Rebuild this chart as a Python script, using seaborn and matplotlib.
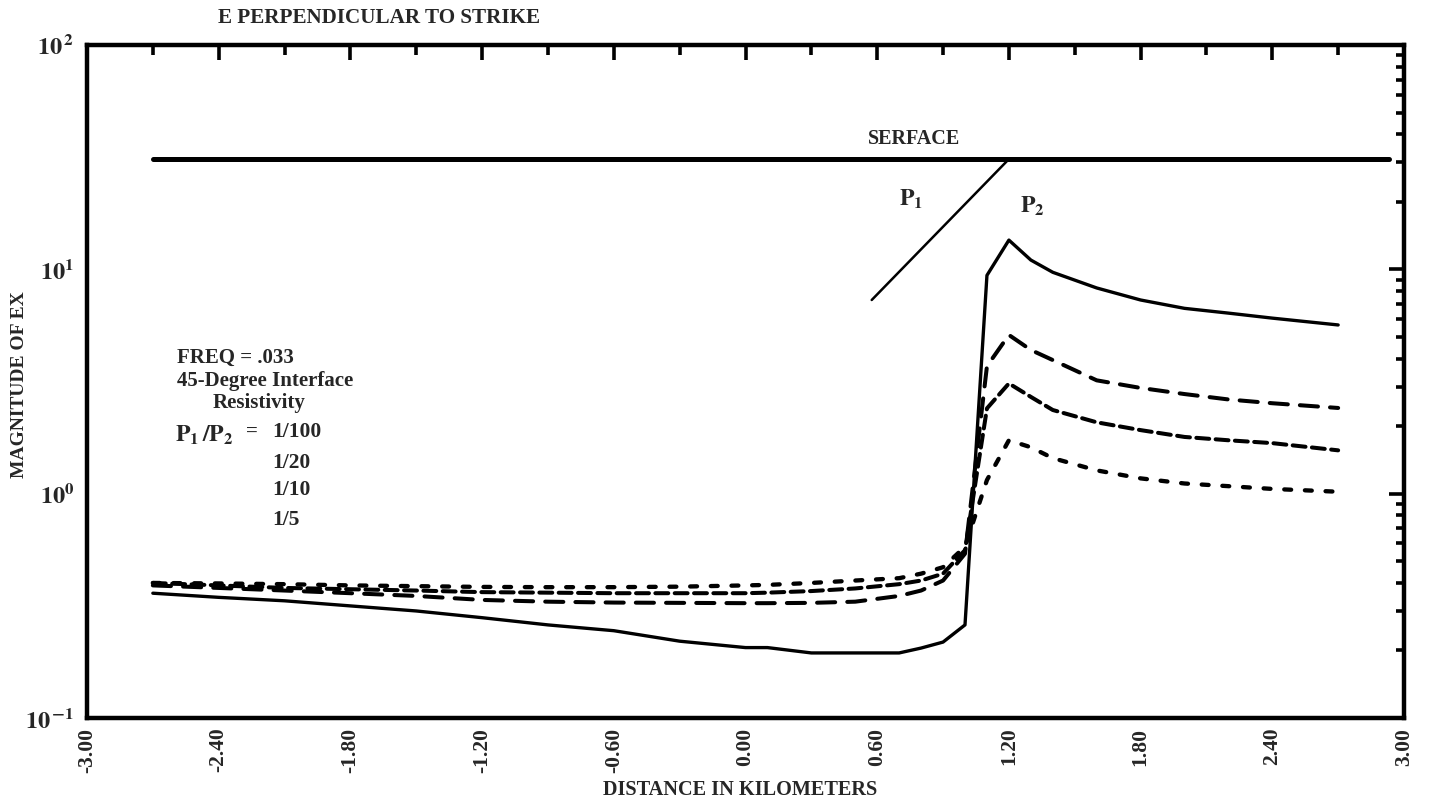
import numpy as np
import pandas as pd
import matplotlib
matplotlib.use("Agg")
import matplotlib.pyplot as plt
import seaborn as sns
from matplotlib.ticker import FixedLocator, NullFormatter

# ---- data -------------------------------------------------------------
distance_km = [-2.7, -2.4, -2.1, -1.8, -1.5, -1.2, -0.9, -0.6, -0.3, 0.0, 0.1,
               0.3, 0.5, 0.7, 0.8, 0.9, 1.0, 1.1, 1.2, 1.3, 1.4, 1.6, 1.8,
               2.0, 2.2, 2.4, 2.7]

ex_1_100 = [0.36, 0.345, 0.333, 0.316, 0.30, 0.28, 0.26, 0.245, 0.22, 0.206,
            0.206, 0.195, 0.195, 0.195, 0.205, 0.218, 0.26, 9.4, 13.5, 11.0,
            9.7, 8.26, 7.3, 6.7, 6.38, 6.06, 5.65]
ex_1_20 = [0.39, 0.38, 0.37, 0.36, 0.35, 0.336, 0.33, 0.327, 0.326, 0.325,
           0.325, 0.326, 0.33, 0.35, 0.37, 0.41, 0.54, 3.7, 5.1, 4.37, 3.94,
           3.2, 2.96, 2.78, 2.63, 2.53, 2.41]
ex_1_10 = [0.40, 0.39, 0.38, 0.375, 0.37, 0.364, 0.362, 0.36, 0.36, 0.36,
           0.362, 0.368, 0.378, 0.395, 0.41, 0.44, 0.56, 2.4, 3.1, 2.7, 2.36,
           2.08, 1.92, 1.79, 1.73, 1.68, 1.56]
ex_1_5 = [0.40, 0.398, 0.395, 0.39, 0.387, 0.384, 0.383, 0.383, 0.385, 0.39,
          0.392, 0.40, 0.41, 0.42, 0.44, 0.47, 0.58, 1.15, 1.73, 1.61, 1.44,
          1.27, 1.17, 1.11, 1.08, 1.05, 1.02]

ratio_labels = ["1/100", "1/20", "1/10", "1/5"]

surface_x = [-2.7, 2.93]
surface_y = [31.0, 31.0]
interface_x = [0.575, 1.2]
interface_y = [7.3, 31.0]

x_major = [-3.0, -2.4, -1.8, -1.2, -0.6, 0.0, 0.6, 1.2, 1.8, 2.4, 3.0]
x_minor = [-2.7, -2.1, -1.5, -0.9, -0.3, 0.3, 0.9, 1.5, 2.1, 2.7]
x_ticklabels = ["-3.00", "-2.40", "-1.80", "-1.20", "-0.60", "0.00", "0.60",
                "1.20", "1.80", "2.40", "3.00"]
y_major = [0.1, 1.0, 10.0, 100.0]
y_ticklabels = [r"$\mathbf{10}^{\,\mathbf{-1}}$", r"$\mathbf{10}^{\mathbf{0}}$",
                r"$\mathbf{10}^{\mathbf{1}}$", r"$\mathbf{10}^{\,\mathbf{2}}$"]

# ---- style ------------------------------------------------------------
sns.set_style("white")
plt.rcParams["font.family"] = ["Liberation Serif", "DejaVu Serif"]
plt.rcParams["mathtext.fontset"] = "stix"
plt.rcParams["font.weight"] = "bold"

W, H = 1429, 809
fig = plt.figure(figsize=(W / 100, H / 100), dpi=100)
ax = fig.add_axes([87 / W, 1 - 718 / H, (1404 - 87) / W, (718 - 45) / H])

df = pd.DataFrame({
    "distance": distance_km * 4,
    "magnitude": ex_1_100 + ex_1_20 + ex_1_10 + ex_1_5,
    "ratio": sum([[r] * len(distance_km) for r in ratio_labels], []),
})

line_styles = {
    "1/100": dict(linestyle="-", linewidth=2.4),
    "1/20": dict(linestyle=(0, (4.5, 3.0)), linewidth=2.9),
    "1/10": dict(linestyle=(0, (3.2, 1.6)), linewidth=2.9),
    "1/5": dict(linestyle=(0, (1.6, 3.2)), linewidth=3.1),
}
for r in ratio_labels:
    sub = df[df["ratio"] == r]
    sns.lineplot(data=sub, x="distance", y="magnitude", ax=ax, color="black",
                 legend=False, errorbar=None, sort=False,
                 dash_capstyle="round", solid_capstyle="round",
                 **line_styles[r])

# surface and dipping interface sketch
sns.lineplot(x=surface_x, y=surface_y, ax=ax, color="black", linewidth=3.6,
             legend=False, errorbar=None)
sns.lineplot(x=interface_x, y=interface_y, ax=ax, color="black", linewidth=1.8,
             legend=False, errorbar=None)

ax.set_yscale("log")
ax.set_xlim(-3.0, 3.0)
ax.set_ylim(0.1, 100.0)

ax.xaxis.set_major_locator(FixedLocator(x_major))
ax.xaxis.set_minor_locator(FixedLocator(x_minor))
ax.set_xticklabels(x_ticklabels, rotation=90, fontsize=15.5, fontweight="bold")
ax.set_yticks(y_major)
ax.set_yticklabels(y_ticklabels, fontsize=17.5)
y_minor = [m * d for d in (0.1, 1.0, 10.0) for m in range(2, 10)]
ax.yaxis.set_minor_locator(FixedLocator(y_minor))
ax.yaxis.set_minor_formatter(NullFormatter())

ax.tick_params(which="both", direction="in", top=True, right=True,
               width=2.6, color="black")
ax.tick_params(axis="x", which="major", length=11, pad=7)
ax.tick_params(axis="x", which="minor", length=7)
ax.tick_params(axis="y", which="major", length=11, pad=9)
ax.tick_params(axis="y", which="minor", length=6)
for s in ax.spines.values():
    s.set_linewidth(3.2)
    s.set_color("black")
ax.set_xlabel("")
ax.set_ylabel("")

# ---- texts ------------------------------------------------------------
def fx(px):
    return px / W

def fy(py):
    return 1 - py / H

fig.text(fx(218), fy(18), "E PERPENDICULAR TO STRIKE", fontsize=15.2,
         fontweight="bold", ha="left", va="center")
fig.text(fx(740), fy(790), "DISTANCE IN KILOMETERS", fontsize=14.6,
         fontweight="bold", ha="center", va="center")
fig.text(fx(20), fy(385), "MAGNITUDE OF EX", fontsize=14, fontweight="bold",
         rotation=90, ha="center", va="center")

ax.text(0.77, 38.0, "SERFACE", fontsize=14.5, fontweight="bold",
        ha="center", va="center")
ax.text(0.70, 20.5, r"$\mathbf{P_{1}}$", fontsize=17, ha="left", va="center")
ax.text(1.25, 19.0, r"$\mathbf{P_{2}}$", fontsize=17, ha="left", va="center")

fig.text(fx(177), fy(358), "FREQ = .033", fontsize=15, fontweight="bold",
         ha="left", va="center")
fig.text(fx(177), fy(381), "45-Degree Interface", fontsize=15,
         fontweight="bold", ha="left", va="center")
fig.text(fx(213), fy(403), "Resistivity", fontsize=15, fontweight="bold",
         ha="left", va="center")
fig.text(fx(175), fy(435), r"$\mathbf{P_{1}\,/P_{2}}$", fontsize=17,
         ha="left", va="center")
fig.text(fx(246), fy(432), "=", fontsize=15, fontweight="bold",
         ha="left", va="center")
fig.text(fx(272), fy(432), "1/100", fontsize=15.5, fontweight="bold",
         ha="left", va="center")
for lbl, py in zip(ratio_labels[1:], [463, 490, 520]):
    fig.text(fx(272), fy(py), lbl, fontsize=15.5, fontweight="bold",
             ha="left", va="center")

fig.savefig("out.png", dpi=100, facecolor="white")
